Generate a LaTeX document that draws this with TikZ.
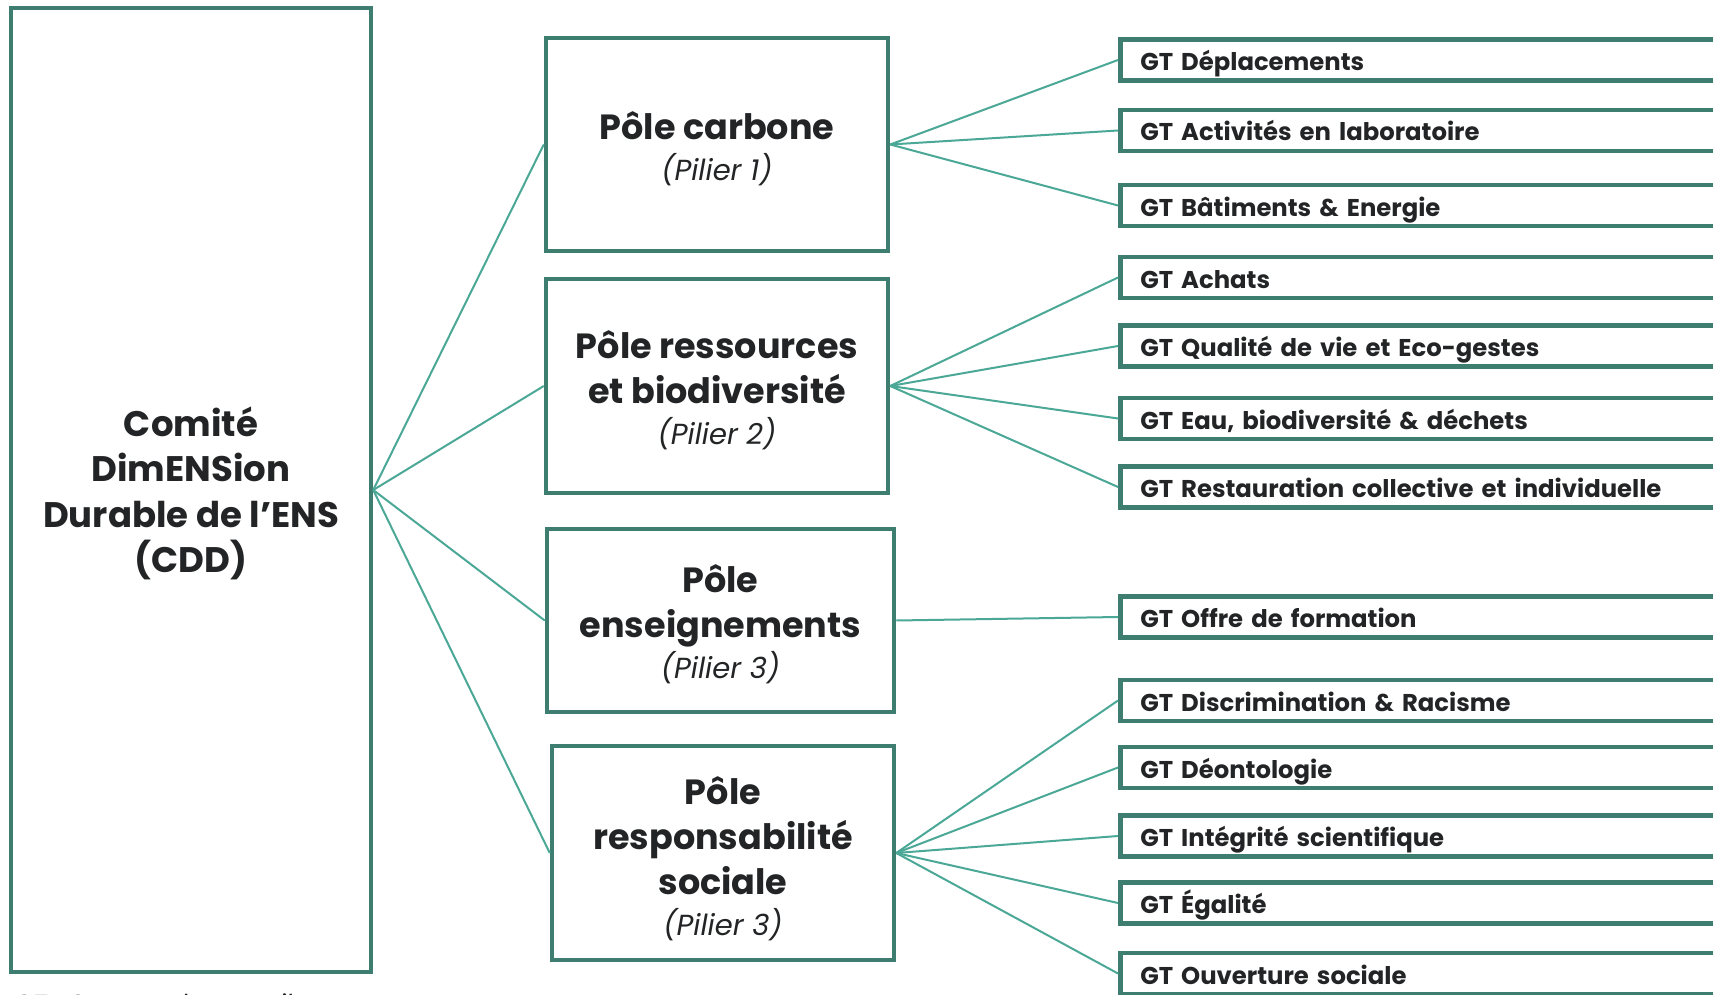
\documentclass[tikz,border=0pt]{standalone}
\usepackage{fontspec}
\setmainfont{Poppins}
\definecolor{boxc}{HTML}{3D7E70}
\definecolor{linec}{HTML}{4BA897}
\definecolor{txt}{HTML}{222425}
\newcommand{\pil}[1]{{\fontsize{29}{40}\selectfont\mdseries\itshape #1}}
\tikzset{
  bigbox/.style={draw=boxc, line width=4.5pt, rectangle, inner sep=0pt},
  bigtext/.style={inner sep=0pt, align=center, text=txt, font=\fontsize{35}{45}\selectfont\bfseries},
  gtbox/.style={draw=boxc, line width=4.5pt, rectangle, anchor=west, inner xsep=20pt, inner ysep=0pt,
    minimum height=41pt, text width=620pt, text height=24pt, text depth=3pt, align=left, text=txt,
    font=\fontsize{24.3}{28}\selectfont\bfseries},
  conn/.style={draw=linec, line width=2pt}
}
\begin{document}
\begin{tikzpicture}[x=1pt,y=-1pt]
\useasboundingbox (0,0) rectangle (1713,995);
\clip (0,0) rectangle (1713,995);
\fill[white] (0,0) rectangle (1713,995);

\node[bigbox, minimum width=360pt, minimum height=964pt] (cdd) at (191,490) {};
\node[bigtext, font=\fontsize{35.5}{45.5}\selectfont\bfseries] (cddt) at ([yshift=-3.5pt]cdd.center)
  {Comité\\DimENSion\\Durable de l’ENS\\(CDD)};

\node[bigbox, minimum width=342pt, minimum height=213pt] (p1) at (717,144.5) {};
\node[bigtext] (p1t) at ([yshift=-4.5pt]p1.center)
  {Pôle carbone\\[-4pt]\pil{(Pilier 1)}};
\node[bigbox, minimum width=342pt, minimum height=214pt] (p2) at (717,386) {};
\node[bigtext] (p2t) at ([yshift=-4.5pt]p2.center)
  {Pôle ressources\\et biodiversité\\[-4pt]\pil{(Pilier 2)}};
\node[bigbox, minimum width=347pt, minimum height=183pt] (p3) at (720.5,620.5) {};
\node[bigtext] (p3t) at ([yshift=-3.5pt]p3.center)
  {Pôle\\enseignements\\[-4pt]\pil{(Pilier 3)}};
\node[bigbox, minimum width=342pt, minimum height=214pt] (p4) at (723,853) {};
\node[bigtext] (p4t) at ([yshift=-6pt]p4.center)
  {Pôle\\responsabilité\\sociale\\[-4pt]\pil{(Pilier 3)}};

\node[gtbox] (g1) at (1118,60) {GT Déplacements};
\node[gtbox] (g2) at (1118,130.5) {GT Activités en laboratoire};
\node[gtbox] (g3) at (1118,205.5) {GT Bâtiments \& Energie};
\node[gtbox] (g4) at (1118,277.5) {GT Achats};
\node[gtbox] (g5) at (1118,346) {GT Qualité de vie et Eco-gestes};
\node[gtbox] (g6) at (1118,418.5) {GT Eau, biodiversité \& déchets};
\node[gtbox] (g7) at (1118,487) {GT Restauration collective et individuelle};
\node[gtbox] (g8) at (1118,617) {GT Offre de formation};
\node[gtbox] (g9) at (1118,700.5) {GT Discrimination \& Racisme};
\node[gtbox] (g10) at (1118,767.5) {GT Déontologie};
\node[gtbox] (g11) at (1118,836) {GT Intégrité scientifique};
\node[gtbox] (g12) at (1118,903) {GT Égalité};
\node[gtbox] (g13) at (1118,973.5) {GT Ouverture sociale};

\foreach \p in {p1,p2,p3,p4} \draw[conn] (cdd.east) -- (\p.west);
\foreach \g in {g1,g2,g3} \draw[conn] (p1.east) -- (\g.west);
\foreach \g in {g4,g5,g6,g7} \draw[conn] (p2.east) -- (\g.west);
\draw[conn] (p3.east) -- (g8.west);
\foreach \g in {g9,g10,g11,g12,g13} \draw[conn] (p4.east) -- (\g.west);

\node[anchor=north west, inner sep=0pt, text=txt, font=\fontsize{26}{30}\selectfont] (leg) at (14,993.5)
  {GT : Groupe de travail};
\end{tikzpicture}
\end{document}
